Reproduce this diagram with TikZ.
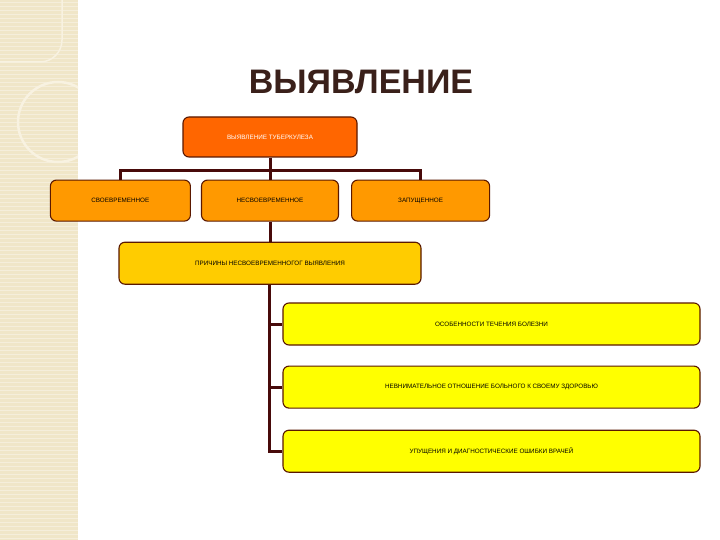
\documentclass[tikz,border=0pt]{standalone}
\usepackage{fontspec}
\setmainfont{Liberation Sans}
\usetikzlibrary{positioning, calc}
\definecolor{topc}{RGB}{255,102,0}
\definecolor{kindc}{RGB}{255,153,0}
\definecolor{causec}{RGB}{255,204,0}
\definecolor{factc}{RGB}{255,255,0}
\definecolor{edgec}{RGB}{90,24,0}
\definecolor{linkc}{RGB}{72,10,10}
\definecolor{stripc}{RGB}{240,230,200}
\definecolor{ringc}{RGB}{248,242,225}
\definecolor{titlec}{RGB}{58,32,26}
\tikzset{
  box/.style={draw=edgec, line width=1.1pt, rounded corners=6pt, fill=#1,
              minimum height=41pt, align=center, inner sep=2pt,
              font=\fontsize{6.3}{7}\selectfont},
  box/.default=kindc,
  link/.style={draw=linkc, line width=3pt},
}
\begin{document}
\begin{tikzpicture}[x=1pt, y=-1pt, node distance=20pt]
  % page and left strip
  \useasboundingbox (0,0) rectangle (720,540);
  \fill[white] (0,0) rectangle (720,540);
  \fill[stripc] (0,0) rectangle (78,540);
  \foreach \y in {2,6,...,538}
    \draw[white, opacity=0.35, line width=0.6pt] (0,\y) -- (78,\y);
  \begin{scope}
    \clip (0,0) rectangle (78,540);
    \draw[ringc, line width=2.5pt] (58,122) circle[radius=40pt];
    \draw[ringc, line width=1.5pt] (62,0) -- (62,40) arc[start angle=0, end angle=-90, radius=22pt] -- (0,62);
  \end{scope}
  \node[font=\bfseries\fontsize{34}{36}\selectfont, text=titlec] (title) at (361,82) {ВЫЯВЛЕНИЕ};
  % boxes
  \node[box=topc, minimum width=174pt, minimum height=40pt, text=white] (top) at (270,137) {ВЫЯВЛЕНИЕ ТУБЕРКУЛЕЗА};
  \node[box, minimum width=137pt, below=22pt of top] (late) {НЕСВОЕВРЕМЕННОЕ};
  \node[box, minimum width=140pt, left=10pt of late] (timely) {СВОЕВРЕМЕННОЕ};
  \node[box, minimum width=138pt, right=12pt of late] (neglect) {ЗАПУЩЕННОЕ};
  \node[box=causec, minimum width=302pt, minimum height=42pt, below=20pt of late] (cause) {ПРИЧИНЫ НЕСВОЕВРЕМЕННОГОГ ВЫЯВЛЕНИЯ};
  \node[box=factc, minimum width=417pt, minimum height=42pt] (course) at (491.5,324) {ОСОБЕННОСТИ ТЕЧЕНИЯ БОЛЕЗНИ};
  \node[box=factc, minimum width=417pt, minimum height=42pt, below=20pt of course] (care) {НЕВНИМАТЕЛЬНОЕ ОТНОШЕНИЕ БОЛЬНОГО К СВОЕМУ ЗДОРОВЬЮ};
  \node[box=factc, minimum width=417pt, minimum height=42pt, below=21pt of care] (errors) {УПУЩЕНИЯ И ДИАГНОСТИЧЕСКИЕ ОШИБКИ ВРАЧЕЙ};
  % connectors
  \coordinate (bus) at ($(top.south)+(0,13)$);
  \draw[link] (top.south) -- (late.north);
  \draw[link] (timely.north) |- (bus) -| (neglect.north);
  \draw[link] (late.south) -- (cause.north);
  \coordinate (trunk) at ($(cause.south)+(-1,0)$);
  \draw[link] (trunk) |- (errors.west);
  \draw[link] (trunk |- course.west) -- (course.west);
  \draw[link] (trunk |- care.west) -- (care.west);
\end{tikzpicture}
\end{document}
